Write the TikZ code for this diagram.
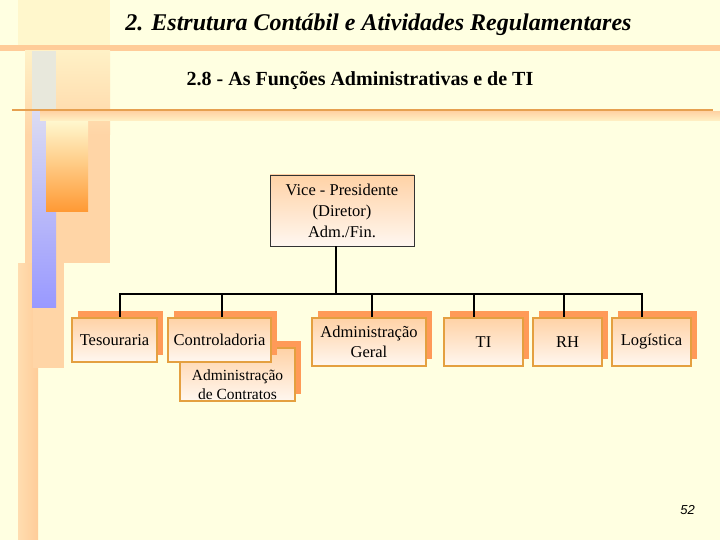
\documentclass[tikz,border=0pt]{standalone}
\usepackage{fontspec}
\setmainfont{Liberation Serif}
\newfontfamily\pgnumfont{Liberation Sans}
\usetikzlibrary{shadows}
\definecolor{bgc}{HTML}{FFFFE1}
\definecolor{paleyel}{HTML}{FFF7CC}
\definecolor{peach}{HTML}{FFCC99}
\definecolor{peachb}{HTML}{FFD5A6}
\definecolor{peachl}{HTML}{FFF1C6}
\definecolor{stripc}{HTML}{FFDDB0}
\definecolor{linec}{HTML}{E6A050}
\definecolor{shadowc}{HTML}{FF9A58}
\definecolor{boxborder}{HTML}{E4A040}
\definecolor{boxtop}{HTML}{FFD2A6}
\definecolor{boxbot}{HTML}{FFF7F0}
\definecolor{bluetop}{HTML}{DCDCF2}
\definecolor{bluebot}{HTML}{9999FF}
\definecolor{graytop}{HTML}{E8E8DC}
\definecolor{orgtop}{HTML}{FFF6CC}
\definecolor{orgbot}{HTML}{FF9933}
\tikzset{
  orgbox/.style={draw=boxborder, line width=1.6pt, top color=boxtop, bottom color=boxbot,
    inner sep=0pt, align=center, font=\fontsize{16.5}{20}\selectfont,
    general shadow={fill=shadowc, shadow xshift=6pt, shadow yshift=7pt}},
  vpbox/.style={draw=black!80, line width=0.8pt, top color=boxtop, bottom color=boxbot,
    inner sep=0pt, align=center, font=\fontsize{16.5}{21}\selectfont},
  conn/.style={draw=black, line width=1.8pt}
}
\begin{document}
\begin{tikzpicture}[x=1pt,y=-1pt]
\useasboundingbox (0,0) rectangle (720,540);
% background
\fill[bgc] (0,0) rectangle (720,540);
\fill[paleyel] (18,0) rectangle (110,45);
\fill[peach] (0,45) rectangle (720,51);
\shade[top color=peachl, bottom color=peachb] (25,51) rectangle (110,135);
\fill[peachb] (25,135) rectangle (110,263);
\shade[left color=stripc, right color=peach] (18,263) rectangle (38,540);
\fill[peachb] (33,263) rectangle (64,368);
\fill[graytop] (32,51) rectangle (56,110);
\shade[top color=bluetop, bottom color=bluebot] (32,110) rectangle (56,307);
\shade[top color=orgtop, middle color=peachb, bottom color=orgbot] (46,122) rectangle (88,212);
\shade[top color=peachb, bottom color=peachl] (40,112) rectangle (720,121);
\draw[linec, line width=2pt] (12,110.5) -- (713,110.5);
% titles
\node (title) at (378.5,25) {\fontsize{24}{28}\selectfont\bfseries\itshape 2. Estrutura Contábil e Atividades Regulamentares};
\node (sub) at (360,81) {\fontsize{20}{24}\selectfont\bfseries 2.8 - As Funções Administrativas e de TI};
% top box
\node[vpbox, minimum width=144pt, minimum height=71pt] (vp) at (342,210.5) {Vice - Presidente\\(Diretor)\\Adm./Fin.};
% bottom boxes
\node[orgbox, minimum width=115pt, minimum height=53pt] (adc) at (237.5,374.5) {};
\node[font=\fontsize{15.5}{19}\selectfont, align=center, inner sep=0pt] (adct) at (237.5,385) {Administração\\de Contratos};
\node[orgbox, minimum width=85pt, minimum height=44pt] (tes) at (114.5,340) {Tesouraria};
\node[orgbox, minimum width=103pt, minimum height=44pt] (ctl) at (219.5,340) {Controladoria};
\node[orgbox, minimum width=114pt, minimum height=48pt] (adg) at (369,342) {Administração\\Geral};
\node[orgbox, minimum width=79pt, minimum height=48pt] (ti) at (483.5,342) {TI};
\node[orgbox, minimum width=69pt, minimum height=48pt] (rh) at (567.5,342) {RH};
\node[orgbox, minimum width=79pt, minimum height=48pt] (log) at (651.5,342) {Logística};
% connectors
\coordinate (vpd) at (336,294);
\coordinate (d1) at (120,294);
\coordinate (d2) at (222,294);
\coordinate (d3) at (372,294);
\coordinate (d4) at (474,294);
\coordinate (d5) at (564,294);
\coordinate (d6) at (642,294);
\draw[conn] (vpd |- vp.south) -- (vpd);
\draw[conn, line cap=rect] (d1) -- (d6);
\draw[conn] (d1) -- (d1 |- tes.north);
\draw[conn] (d2) -- (d2 |- ctl.north);
\draw[conn] (d3) -- (d3 |- adg.north);
\draw[conn] (d4) -- (d4 |- ti.north);
\draw[conn] (d5) -- (d5 |- rh.north);
\draw[conn] (d6) -- (d6 |- log.north);
% page number
\node (pg) at (687.5,510) {\pgnumfont\itshape\fontsize{13}{15}\selectfont 52};
\end{tikzpicture}
\end{document}
